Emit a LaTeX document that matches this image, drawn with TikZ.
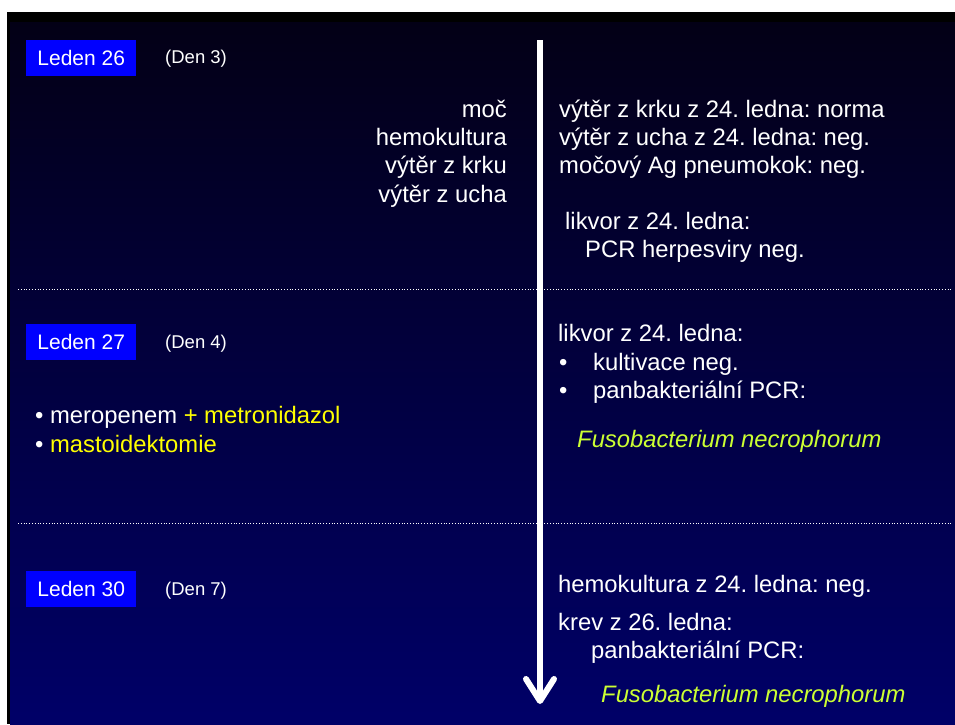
\documentclass[tikz,border=0pt]{standalone}
\usepackage{fontspec}
\setmainfont{Liberation Sans}
\usetikzlibrary{arrows.meta}
\definecolor{bgtop}{RGB}{3,0,22}
\definecolor{bgbot}{RGB}{0,0,104}
\definecolor{boxblue}{RGB}{0,0,255}
\definecolor{hiyel}{RGB}{255,255,0}
\definecolor{higreen}{RGB}{204,255,51}
\frenchspacing
\begin{document}
\begin{tikzpicture}[x=1pt,y=-1pt,
  body/.style={inner sep=0pt, text=white, font=\fontsize{23.8}{28}\selectfont},
  lt/.style={body, anchor=base west},
  rt/.style={body, anchor=base east},
  datebox/.style={fill=boxblue, text=white, minimum width=110pt, minimum height=36pt, inner sep=0pt, anchor=north west, font=\fontsize{21}{24}\selectfont},
  den/.style={inner sep=0pt, anchor=base west, text=white, font=\fontsize{18.5}{22}\selectfont},
  sep/.style={white, line width=0.8pt, dotted},
  fuso/.style={lt, text=higreen, font=\fontsize{23.8}{28}\selectfont\itshape}
]
\useasboundingbox (0,0) rectangle (955,724);
\fill[white] (0,0) rectangle (955,724);
\fill[black] (7,12) rectangle (955,724);
\shade[top color=bgtop, bottom color=bgbot] (10,22) rectangle (955,724);

% separators
\coordinate (s1a) at (18,289); \coordinate (s1b) at (952,289);
\coordinate (s2a) at (18,523); \coordinate (s2b) at (952,523);
\draw[sep] (s1a) -- (s1b);
\draw[sep] (s2a) -- (s2b);

% time arrow
\coordinate (atop) at (540,40);
\coordinate (abot) at (540,704);
\draw[white, line width=6pt, -{Straight Barb[length=22pt,width=28pt,line width=6pt,round]}] (atop) -- (abot);

% Leden 26
\node[datebox] (d26) at (26,40) {Leden 26};
\node[den] (den3) at (165,63) {(Den 3)};
\node[rt] (l1) at (507,117) {moč};
\node[rt] (l2) at (507,145) {hemokultura};
\node[rt] (l3) at (507,173) {výtěr z krku};
\node[rt] (l4) at (507,202) {výtěr z ucha};
\node[lt] (r1) at (559,117) {výtěr z krku z 24. ledna: norma};
\node[lt] (r2) at (559,145) {výtěr z ucha z 24. ledna: neg.};
\node[lt] (r3) at (559,173) {močový Ag pneumokok: neg.};
\node[lt] (r4) at (565,229) {likvor z 24. ledna:};
\node[lt] (r5) at (585,257) {PCR herpesviry neg.};

% Leden 27
\node[datebox] (d27) at (26,324) {Leden 27};
\node[den] (den4) at (165,348) {(Den 4)};
\node[lt] (m1) at (35,423) {• meropenem \textcolor{hiyel}{+ metronidazol}};
\node[lt] (m2) at (35,452) {• \textcolor{hiyel}{mastoidektomie}};
\node[lt] (k1) at (558,341) {likvor z 24. ledna:};
\node[lt] (kb1) at (559,370) {•};
\node[lt] (k2) at (593,370) {kultivace neg.};
\node[lt] (kb2) at (559,398) {•};
\node[lt] (k3) at (593,398) {panbakteriální PCR:};
\node[fuso] (f1) at (577,447) {Fusobacterium necrophorum};

% Leden 30
\node[datebox] (d30) at (26,571) {Leden 30};
\node[den] (den7) at (165,595) {(Den 7)};
\node[lt] (h1) at (558,592) {hemokultura z 24. ledna: neg.};
\node[lt] (h2) at (558,630) {krev z 26. ledna:};
\node[lt] (h3) at (591,658) {panbakteriální PCR:};
\node[fuso] (f2) at (601,702) {Fusobacterium necrophorum};
\end{tikzpicture}
\end{document}
